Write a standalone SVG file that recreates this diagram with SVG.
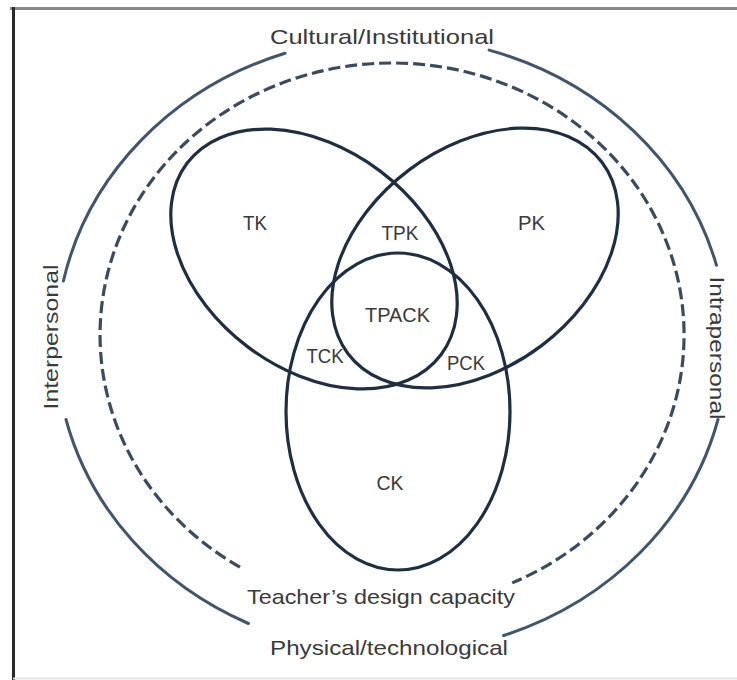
<svg xmlns="http://www.w3.org/2000/svg" width="737" height="680" viewBox="0 0 737 680">
<style>
  .frame { stroke-linecap: butt; fill: none; }
  .ring { fill: none; stroke: #42556a; stroke-width: 3; stroke-linecap: round; }
  .dash { fill: none; stroke: #3b4b5d; stroke-width: 3.2; stroke-dasharray: 12 5; }
  .set { fill: none; stroke: #1f2e40; stroke-width: 3.2; }
  .lbl { font-family: "Liberation Sans", Arial, sans-serif; font-size: 20px; fill: #3a3a3a; text-anchor: middle; }
  .ctx { font-family: "Liberation Sans", Arial, sans-serif; font-size: 21px; fill: #3a3a3a; text-anchor: middle; }
</style>
<rect x="0" y="0" width="737" height="680" fill="#ffffff"/>
<g id="frame" class="frame">
  <line x1="10" y1="8.5" x2="737" y2="8.5" stroke="#8a8a8a" stroke-width="3"/>
  <line x1="13.5" y1="7" x2="13.5" y2="680" stroke="#2a2a2a" stroke-width="3"/>
  <line x1="13" y1="678.5" x2="737" y2="678.5" stroke="#e4e4e4" stroke-width="2"/>
</g>
<g id="context-ring">
  <path class="ring" d="M 63.4 281 A 336 308 0 0 1 285 53.2"/>
  <path class="ring" d="M 489.1 50.1 A 336 308 0 0 1 716.5 265.3"/>
  <path class="ring" d="M 718 419.5 A 336 308 0 0 1 503.6 635.5"/>
  <path class="ring" d="M 248.4 623.5 A 336 308 0 0 1 66 419.5"/>
  <text class="ctx" x="382" y="44" textLength="224" lengthAdjust="spacingAndGlyphs">Cultural/Institutional</text>
  <text class="ctx" x="389" y="655" textLength="238" lengthAdjust="spacingAndGlyphs">Physical/technological</text>
  <text class="ctx" transform="translate(58 337) rotate(-90)" x="0" y="0" textLength="145" lengthAdjust="spacingAndGlyphs">Interpersonal</text>
  <text class="ctx" transform="translate(710 348) rotate(90)" x="0" y="0" textLength="143" lengthAdjust="spacingAndGlyphs">Intrapersonal</text>
</g>
<g id="design-capacity">
  <path class="dash" d="M 240 567.2 A 292 272 0 1 1 512.2 582.9"/>
  <text class="ctx" x="381" y="604" textLength="268" lengthAdjust="spacingAndGlyphs">Teacher’s design capacity</text>
</g>
<g id="TK">
  <ellipse class="set" cx="314" cy="259" rx="159" ry="110" transform="rotate(37 314 259)"/>
  <text class="lbl" x="255" y="230" textLength="24" lengthAdjust="spacingAndGlyphs">TK</text>
</g>
<g id="PK">
  <ellipse class="set" cx="475" cy="258" rx="159" ry="110" transform="rotate(-37 475 258)"/>
  <text class="lbl" x="531.5" y="230" textLength="27" lengthAdjust="spacingAndGlyphs">PK</text>
</g>
<g id="CK">
  <ellipse class="set" cx="398" cy="411.5" rx="112" ry="158.5"/>
  <text class="lbl" x="390" y="490" textLength="27" lengthAdjust="spacingAndGlyphs">CK</text>
</g>
<g id="TPK">
  <text class="lbl" x="400" y="240" textLength="37" lengthAdjust="spacingAndGlyphs">TPK</text>
</g>
<g id="TPACK">
  <text class="lbl" x="397.5" y="322" textLength="65" lengthAdjust="spacingAndGlyphs">TPACK</text>
</g>
<g id="TCK">
  <text class="lbl" x="325" y="363" textLength="37" lengthAdjust="spacingAndGlyphs">TCK</text>
</g>
<g id="PCK">
  <text class="lbl" x="466" y="370" textLength="38" lengthAdjust="spacingAndGlyphs">PCK</text>
</g>
</svg>
